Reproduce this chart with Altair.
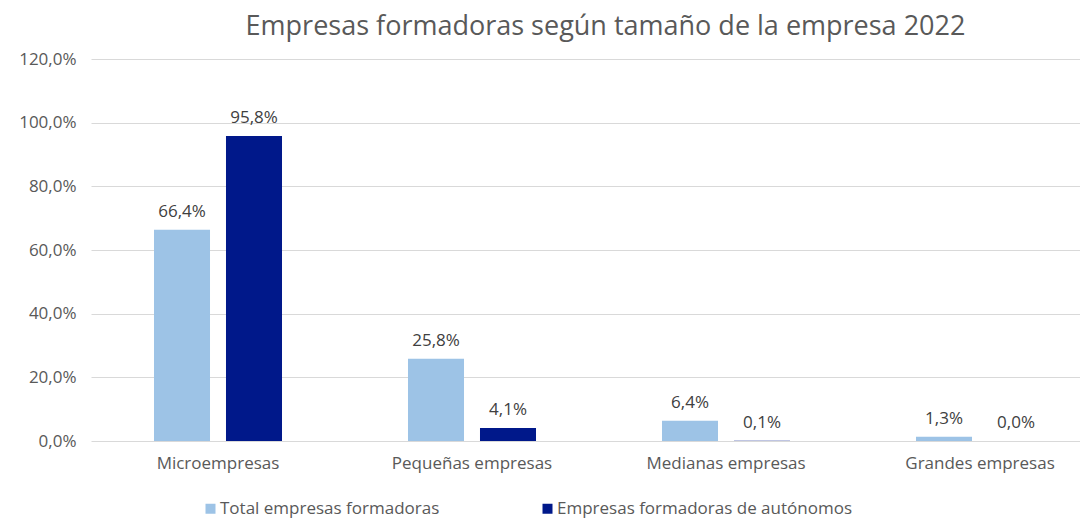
import altair as alt
import pandas as pd

categories = ["Microempresas", "Pequeñas empresas", "Medianas empresas", "Grandes empresas"]
series = ["Total empresas formadoras", "Empresas formadoras de autónomos"]
total_values = [66.4, 25.8, 6.4, 1.3]
autonomos_values = [95.8, 4.1, 0.1, 0.0]
colors = ["#9DC3E6", "#00188A"]

rows = []
for c, v in zip(categories, total_values):
    rows.append({"cat": c, "serie": series[0], "v": v})
for c, v in zip(categories, autonomos_values):
    rows.append({"cat": c, "serie": series[1], "v": v})
df = pd.DataFrame(rows)

FONT = "Open Sans"
GREY = "#595959"
LS = 17

x = alt.X("cat:N", sort=categories, title=None,
          scale=alt.Scale(paddingInner=0.0, paddingOuter=0.0, range=[0, 1016]),
          axis=alt.Axis(labelAngle=0, labelFontSize=LS, labelColor=GREY, labelFont=FONT,
                        ticks=False, domain=False, labelPadding=14))
xo = alt.XOffset("serie:N", sort=series,
                 scale=alt.Scale(paddingInner=0.222, paddingOuter=0.875))
y = alt.Y("v:Q", title=None,
          scale=alt.Scale(domain=[0, 120]),
          axis=alt.Axis(values=[0, 20, 40, 60, 80, 100, 120], labelFontSize=LS, labelColor=GREY,
                        labelFont=FONT, ticks=False, domain=False, gridColor="#D9D9D9",
                        labelPadding=15,
                        labelExpr="replace(format(datum.value, '.1f'), '.', ',') + '%'"))

base = alt.Chart(df).encode(x=x, xOffset=xo, y=y)

bars = base.mark_bar().encode(
    color=alt.Color("serie:N", sort=series,
                    scale=alt.Scale(domain=series, range=colors),
                    legend=alt.Legend(title=None, orient="none", direction="horizontal",
                                      legendX=111, legendY=441, symbolType="square",
                                      symbolSize=100, symbolStrokeWidth=0,
                                      labelFontSize=LS, labelColor=GREY, labelFont=FONT,
                                      labelLimit=500,
                                      columnPadding=99, labelOffset=1))
)

labels = base.mark_text(baseline="bottom", dy=-9, fontSize=LS, color="#404040", font=FONT).transform_calculate(
    lab="replace(format(datum.v, '.1f'), '.', ',') + '%'"
).encode(text="lab:N")

chart = (bars + labels).properties(
    width=989, height=382,
    title=alt.TitleParams("Empresas formadoras según tamaño de la empresa 2022",
                          fontSize=27, font=FONT, fontWeight="normal", color=GREY,
                          anchor="middle", offset=9, dx=20, limit=900),
    autosize=alt.AutoSizeParams(type="none"),
    padding={"left": 83, "top": 51, "right": 0, "bottom": 82},
).configure_view(stroke=None)

chart.save("out.html", embed_options={"renderer": "svg", "actions": False})
